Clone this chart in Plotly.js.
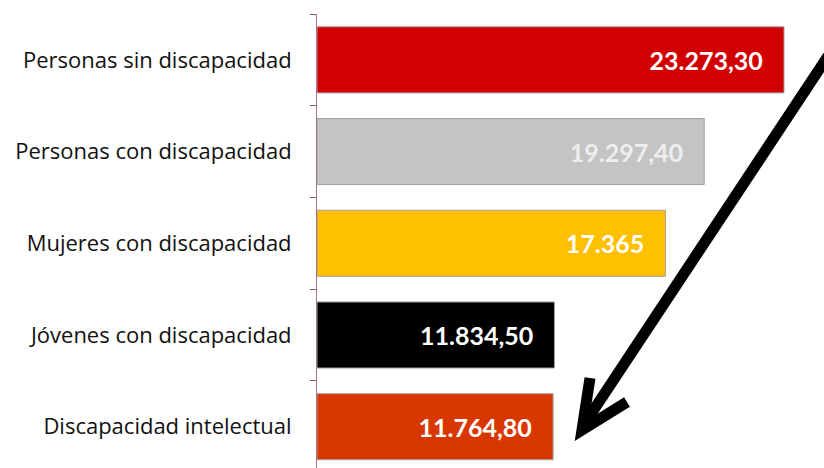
<!DOCTYPE html>
<html>
<head>
<meta charset="utf-8">
<script src="https://cdn.plot.ly/plotly-3.0.1.min.js"></script>
<style>html,body{margin:0;padding:0;background:#fff;}#chart{width:824px;height:468px;}</style>
</head>
<body>
<div id="chart"></div>
<script>
const categories = [
  "Personas sin discapacidad",
  "Personas con discapacidad",
  "Mujeres con discapacidad",
  "Jóvenes con discapacidad",
  "Discapacidad intelectual"
];
const values = [23273.30, 19297.40, 17365, 11834.50, 11764.80];
const valueLabels = ["23.273,30", "19.297,40", "17.365", "11.834,50", "11.764,80"];
const barColors = ["#d20000", "#c4c4c4", "#ffc000", "#000000", "#d83800"];
const textColors = ["#ffffff", "#eeeeee", "#ffffff", "#ffffff", "#ffffff"];

const NB = "\u00a0";
const trace = {
  type: "bar",
  orientation: "h",
  y: categories,
  x: values,
  text: valueLabels,
  texttemplate: "%{text}" + NB + NB + NB,
  textposition: "inside",
  insidetextanchor: "end",
  textangle: 0,
  constraintext: "none",
  textfont: {family: "Lato, 'Open Sans', sans-serif", size: 25, color: textColors, weight: "bold"},
  marker: {color: barColors, line: {color: "#a0a0a0", width: 1}},
  hoverinfo: "skip",
  width: 0.72
};

function px(x){ return (x - 317) / 507; }
function py(y){ return (468 - y) / 454; }

const layout = {
  width: 824,
  height: 468,
  margin: {l: 317, r: 0, t: 14, b: 0},
  paper_bgcolor: "#ffffff",
  plot_bgcolor: "#ffffff",
  showlegend: false,
  xaxis: {range: [0, 25266], visible: false, fixedrange: true},
  yaxis: {
    type: "category",
    range: [4.45, -0.5],
    showline: true,
    linecolor: "#b07080",
    linewidth: 1,
    ticks: "outside",
    ticklen: 6,
    tickcolor: "#806068",
    tickson: "boundaries",
    ticklabelstandoff: 20,
    tickfont: {family: "'Open Sans', Lato, sans-serif", size: 22, color: "#111111"},
    showgrid: false,
    zeroline: false,
    fixedrange: true
  },
  shapes: [
    {type: "line", xref: "paper", yref: "paper",
     x0: px(840), y0: py(38), x1: px(587), y1: py(420),
     line: {color: "#000000", width: 11}},
    {type: "path", xref: "paper", yref: "paper",
     path: "M " + px(590) + "," + py(378) + " L " + px(582) + "," + py(430) + " L " + px(627) + "," + py(402),
     line: {color: "#000000", width: 11}}
  ]
};

Plotly.newPlot("chart", [trace], layout, {staticPlot: true, displayModeBar: false});
</script>
</body>
</html>
